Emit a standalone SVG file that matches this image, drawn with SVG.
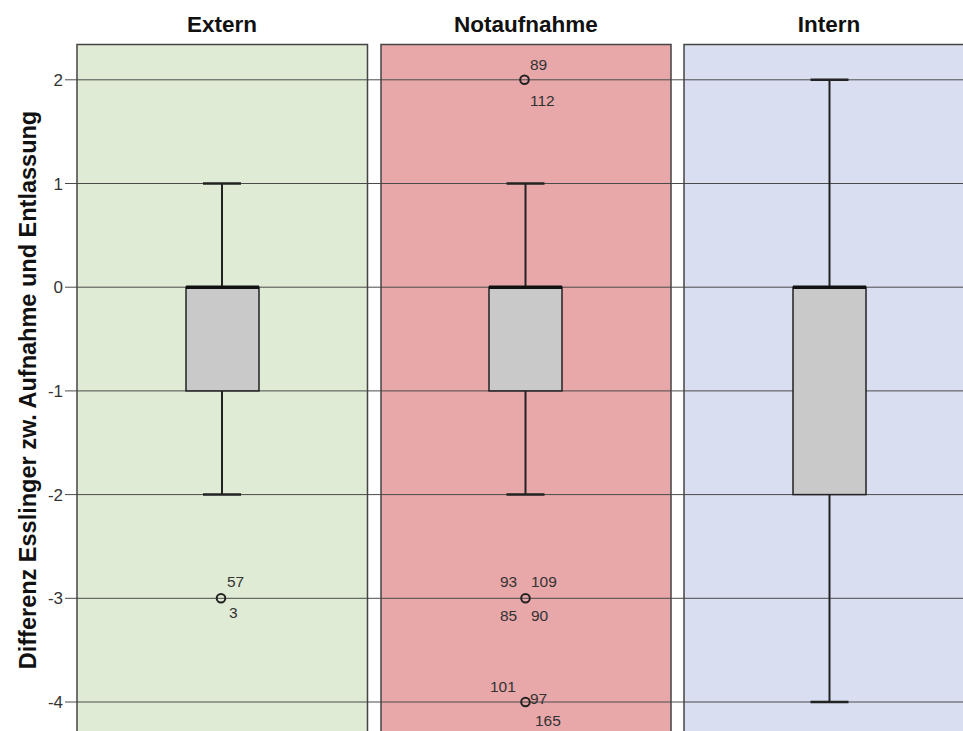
<svg xmlns="http://www.w3.org/2000/svg" width="963" height="731" viewBox="0 0 963 731">
  <style>
    .title { font-family: "Liberation Sans", Arial, sans-serif; font-weight: bold; font-size: 22.5px; fill: #111; text-anchor: middle; }
    .axis-title { font-family: "Liberation Sans", Arial, sans-serif; font-weight: bold; font-size: 23.5px; fill: #111; text-anchor: middle; }
    .tick { font-family: "Liberation Sans", Arial, sans-serif; font-size: 17px; fill: #333; text-anchor: end; }
    .case { font-family: "Liberation Sans", Arial, sans-serif; font-size: 15.5px; fill: #333; }
    .panel { stroke: #444; stroke-width: 1.5; }
    .grid { stroke: #4a4a4a; stroke-width: 1; }
    .box { fill: #c9c9c9; stroke: #222; stroke-width: 1.5; }
    .median { stroke: #111; stroke-width: 3.5; }
    .whisker { stroke: #222; stroke-width: 2; fill: none; }
    .cap { stroke: #222; stroke-width: 2.5; }
    .outlier { fill: none; stroke: #222; stroke-width: 2; }
  </style>

  <rect width="963" height="731" fill="#ffffff"/>

  <!-- category headers -->
  <g id="headers">
    <text class="title" x="222" y="32">Extern</text>
    <text class="title" x="526" y="32">Notaufnahme</text>
    <text class="title" x="829" y="32">Intern</text>
  </g>

  <!-- y axis title -->
  <text class="axis-title" transform="translate(36,390) rotate(-90)">Differenz Esslinger zw. Aufnahme und Entlassung</text>

  <!-- panel backgrounds -->
  <g id="panels-fill">
    <rect x="77" y="44.5" width="290.5" height="700" fill="#dfebd5"/>
    <rect x="381" y="44.5" width="290" height="700" fill="#e8a7a9"/>
    <rect x="684" y="44.5" width="320" height="700" fill="#d9dff1"/>
  </g>

  <!-- gridlines and ticks: y = 287.2 - v*103.7 -->
  <g id="grid">
    <line class="grid" x1="65" y1="79.8" x2="963" y2="79.8"/>
    <line class="grid" x1="65" y1="183.5" x2="963" y2="183.5"/>
    <line class="grid" x1="65" y1="287.2" x2="963" y2="287.2"/>
    <line class="grid" x1="65" y1="390.9" x2="963" y2="390.9"/>
    <line class="grid" x1="65" y1="494.6" x2="963" y2="494.6"/>
    <line class="grid" x1="65" y1="598.3" x2="963" y2="598.3"/>
    <line class="grid" x1="65" y1="702" x2="963" y2="702"/>
  </g>
  <g id="tick-labels">
    <text class="tick" x="63" y="86">2</text>
    <text class="tick" x="63" y="190">1</text>
    <text class="tick" x="63" y="293">0</text>
    <text class="tick" x="63" y="397">-1</text>
    <text class="tick" x="63" y="501">-2</text>
    <text class="tick" x="63" y="604">-3</text>
    <text class="tick" x="63" y="708">-4</text>
  </g>

  <!-- panel borders -->
  <g id="panels-border" fill="none">
    <path class="panel" d="M77,745 V44.5 H367.5 V745"/>
    <path class="panel" d="M381,745 V44.5 H671 V745"/>
    <path class="panel" d="M684,745 V44.5 H1004"/>
  </g>

  <!-- Extern -->
  <g id="extern">
    <line class="whisker" x1="222" y1="183.5" x2="222" y2="287.2"/>
    <line class="whisker" x1="222" y1="390.9" x2="222" y2="494.6"/>
    <line class="cap" x1="203" y1="183.5" x2="241" y2="183.5"/>
    <line class="cap" x1="203" y1="494.6" x2="241" y2="494.6"/>
    <rect class="box" x="186" y="287.2" width="73" height="103.7"/>
    <line class="median" x1="186" y1="287.2" x2="259" y2="287.2"/>
    <circle class="outlier" cx="221" cy="598.3" r="4.3"/>
    <text class="case" x="227" y="587">57</text>
    <text class="case" x="229" y="618">3</text>
  </g>

  <!-- Notaufnahme -->
  <g id="notaufnahme">
    <line class="whisker" x1="525.5" y1="183.5" x2="525.5" y2="287.2"/>
    <line class="whisker" x1="525.5" y1="390.9" x2="525.5" y2="494.6"/>
    <line class="cap" x1="506.5" y1="183.5" x2="544.5" y2="183.5"/>
    <line class="cap" x1="506.5" y1="494.6" x2="544.5" y2="494.6"/>
    <rect class="box" x="489" y="287.2" width="73" height="103.7"/>
    <line class="median" x1="489" y1="287.2" x2="562" y2="287.2"/>
    <circle class="outlier" cx="524.5" cy="79.8" r="4.3"/>
    <text class="case" x="530" y="70">89</text>
    <text class="case" x="530" y="106">112</text>
    <circle class="outlier" cx="525.5" cy="598.3" r="4.3"/>
    <text class="case" x="500" y="587">93</text>
    <text class="case" x="531" y="587">109</text>
    <text class="case" x="500" y="621">85</text>
    <text class="case" x="531" y="621">90</text>
    <circle class="outlier" cx="525.5" cy="702" r="4.3"/>
    <text class="case" x="490" y="692">101</text>
    <text class="case" x="530" y="704">97</text>
    <text class="case" x="535" y="726">165</text>
  </g>

  <!-- Intern -->
  <g id="intern">
    <line class="whisker" x1="829.5" y1="79.8" x2="829.5" y2="287.2"/>
    <line class="whisker" x1="829.5" y1="494.6" x2="829.5" y2="702"/>
    <line class="cap" x1="810.5" y1="79.8" x2="848.5" y2="79.8"/>
    <line class="cap" x1="810.5" y1="702" x2="848.5" y2="702"/>
    <rect class="box" x="793" y="287.2" width="73" height="207.4"/>
    <line class="median" x1="793" y1="287.2" x2="866" y2="287.2"/>
  </g>
</svg>
